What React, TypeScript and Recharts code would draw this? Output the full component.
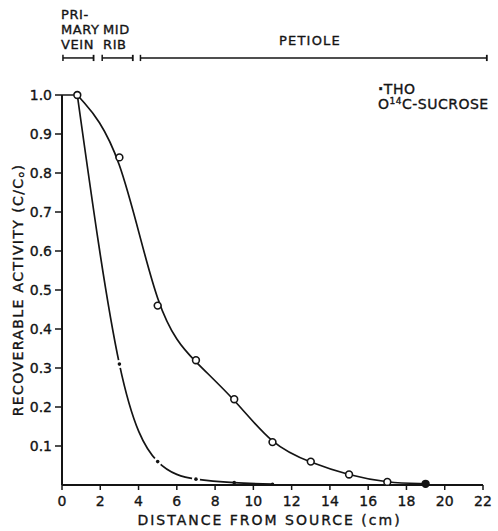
import React from 'react';
import { LineChart, Line, XAxis, YAxis, ReferenceLine, Legend } from 'recharts';

const FONT = '"DejaVu Sans", Verdana, sans-serif';
const INK = '#141414';

// Distances (cm) and recoverable activity (C/Co)
const sucroseDistance = [0.8, 3, 5, 7, 9, 11, 13, 15, 17, 19];
const sucroseActivity = [1.0, 0.84, 0.46, 0.32, 0.22, 0.11, 0.06, 0.027, 0.008, 0.003];
const thoDistance = [0.8, 3, 5, 7, 9, 11];
const thoActivity = [1.0, 0.31, 0.06, 0.015, 0.006, 0.002];

const xTicks = [0, 2, 4, 6, 8, 10, 12, 14, 16, 18, 20, 22];
const yTicks = [0.1, 0.2, 0.3, 0.4, 0.5, 0.6, 0.7, 0.8, 0.9, 1.0];

// Anatomical regions along the distance axis (cm)
const regionNames = ['PRIMARY VEIN', 'MID RIB', 'PETIOLE'];
const regionStart = [0.05, 2.1, 4.1];
const regionEnd = [1.65, 3.7, 22.2];
const bracketLevel = 1.095;

const sucroseData = sucroseDistance.map((d, i) => ({ distance: d, activity: sucroseActivity[i] }));
const thoData = thoDistance.map((d, i) => ({ distance: d, activity: thoActivity[i] }));

// Smoothing B-spline (hand-drawn "fitted" look): control points nudged toward the data
function makeSoftBasis(iterations: number) {
  return function softBasis(context: any) {
    let xs: number[] = [];
    let ys: number[] = [];
    return {
      areaStart() {},
      areaEnd() {},
      lineStart() {
        xs = [];
        ys = [];
      },
      point(x: number, y: number) {
        xs.push(+x);
        ys.push(+y);
      },
      lineEnd() {
        const n = xs.length;
        if (n === 0) return;
        let cx = xs.slice();
        let cy = ys.slice();
        for (let it = 0; it < iterations; it++) {
          const nx = cx.slice();
          const ny = cy.slice();
          for (let i = 1; i < n - 1; i++) {
            const bx = (cx[i - 1] + 4 * cx[i] + cx[i + 1]) / 6;
            const by = (cy[i - 1] + 4 * cy[i] + cy[i + 1]) / 6;
            nx[i] = cx[i] + (xs[i] - bx);
            ny[i] = cy[i] + (ys[i] - by);
          }
          cx = nx;
          cy = ny;
        }
        context.moveTo(cx[0], cy[0]);
        if (n === 1) return;
        if (n === 2) {
          context.lineTo(cx[1], cy[1]);
          return;
        }
        context.lineTo((5 * cx[0] + cx[1]) / 6, (5 * cy[0] + cy[1]) / 6);
        const bez = (x0: number, y0: number, x1: number, y1: number, x: number, y: number) =>
          context.bezierCurveTo(
            (2 * x0 + x1) / 3,
            (2 * y0 + y1) / 3,
            (x0 + 2 * x1) / 3,
            (y0 + 2 * y1) / 3,
            (x0 + 4 * x1 + x) / 6,
            (y0 + 4 * y1 + y) / 6
          );
        for (let k = 2; k < n; k++) bez(cx[k - 2], cy[k - 2], cx[k - 1], cy[k - 1], cx[k], cy[k]);
        bez(cx[n - 2], cy[n - 2], cx[n - 1], cy[n - 1], cx[n - 1], cy[n - 1]);
        context.lineTo(cx[n - 1], cy[n - 1]);
      },
    };
  };
}

const sucroseCurve = makeSoftBasis(1);

const SucroseDot = (props: any) => {
  const { cx, cy, index } = props;
  if (cx == null || cy == null) return <g key={`s-${index}`} />;
  const last = index === sucroseData.length - 1;
  return (
    <circle
      key={`s-${index}`}
      cx={cx}
      cy={cy}
      r={3.4}
      fill={last ? INK : '#fff'}
      stroke={INK}
      strokeWidth={1.6}
    />
  );
};

const ThoDot = (props: any) => {
  const { cx, cy, index, payload } = props;
  if (cx == null || cy == null || index === 0) return <g key={`t-${index}`} />;
  const halo = payload && payload.activity >= 0.01;
  return (
    <g key={`t-${index}`}>
      {halo && <circle cx={cx} cy={cy} r={4} fill="#fff" stroke="none" />}
      <circle cx={cx} cy={cy} r={1.8} fill={INK} stroke="none" />
    </g>
  );
};

const YLabel = (props: any) => {
  const vb = props.viewBox || { x: 0, y: 95, width: 62, height: 390 };
  const cx = vb.x + 18;
  const cy = vb.y + vb.height / 2;
  return (
    <text
      x={cx}
      y={cy}
      transform={`rotate(-90, ${cx}, ${cy})`}
      textAnchor="middle"
      dominantBaseline="central"
      fill={INK}
      stroke={INK}
      strokeWidth={0.35}
      fontFamily={FONT}
      fontSize={14}
      letterSpacing={1.4}
    >
      RECOVERABLE ACTIVITY (C/C
      <tspan fontSize={9} dy={3}>o</tspan>
      <tspan dy={-3}>)</tspan>
    </text>
  );
};

const XLabel = (props: any) => {
  const vb = props.viewBox || { x: 62, y: 485, width: 421, height: 46 };
  return (
    <text
      x={vb.x + vb.width / 2 - 3}
      y={vb.y + 35}
      textAnchor="middle"
      dominantBaseline="central"
      fill={INK}
      stroke={INK}
      strokeWidth={0.35}
      fontFamily={FONT}
      fontSize={14}
      letterSpacing={2}
    >
      DISTANCE FROM SOURCE (cm)
    </text>
  );
};

const LegendContent = () => (
  <div
    style={{
      fontFamily: FONT,
      fontSize: 14,
      color: INK,
      lineHeight: '15px',
      letterSpacing: 0.5,
      whiteSpace: 'nowrap',
      WebkitTextStroke: '0.35px ' + INK,
    }}
  >
    <div>
      <span style={{ fontWeight: 700 }}>·</span>THO
    </div>
    <div>
      O<sup style={{ fontSize: 9, verticalAlign: 'top', lineHeight: '9px' }}>14</sup>C-SUCROSE
    </div>
  </div>
);

const textStyle: React.CSSProperties = {
  position: 'absolute',
  fontFamily: FONT,
  fontSize: 13,
  lineHeight: '15px',
  color: INK,
  letterSpacing: 0.6,
  whiteSpace: 'nowrap',
  WebkitTextStroke: '0.35px ' + INK,
};

const tickStyle = { fill: INK, stroke: INK, strokeWidth: 0.35, fontSize: 14, fontFamily: FONT };

export default function App() {
  const capH = 0.008;
  return (
    <div style={{ position: 'absolute', left: 0, top: 0, width: 498, height: 531, background: '#fff' }}>
      <LineChart width={498} height={531} margin={{ top: 95, right: 15, left: 0, bottom: 0 }}>
        <XAxis
          dataKey="distance"
          type="number"
          domain={[0, 22]}
          ticks={xTicks}
          interval={0}
          allowDuplicatedCategory={false}
          height={46}
          tickSize={5}
          tickMargin={6}
          axisLine={{ stroke: INK, strokeWidth: 2 }}
          tickLine={{ stroke: INK, strokeWidth: 1.5 }}
          tick={tickStyle}
          label={<XLabel />}
        />
        <YAxis
          dataKey="activity"
          type="number"
          domain={[0, 1]}
          ticks={yTicks}
          interval={0}
          width={62}
          tickSize={7}
          tickMargin={3}
          tickFormatter={(v: number) => v.toFixed(1)}
          axisLine={{ stroke: INK, strokeWidth: 2 }}
          tickLine={{ stroke: INK, strokeWidth: 1.5 }}
          tick={tickStyle}
          label={<YLabel />}
        />
        <ReferenceLine
          segment={[{ x: 0, y: 1 }, { x: 0.62, y: 1 }]}
          stroke={INK}
          strokeWidth={1.5}
          ifOverflow="visible"
        />
        {regionNames.map((name, i) => (
          <ReferenceLine
            key={`bar-${name}`}
            segment={[{ x: regionStart[i], y: bracketLevel }, { x: regionEnd[i], y: bracketLevel }]}
            stroke={INK}
            strokeWidth={1.5}
            ifOverflow="visible"
          />
        ))}
        {regionNames.map((name, i) => (
          <ReferenceLine
            key={`capL-${name}`}
            segment={[{ x: regionStart[i], y: bracketLevel - capH }, { x: regionStart[i], y: bracketLevel + capH }]}
            stroke={INK}
            strokeWidth={1.5}
            ifOverflow="visible"
          />
        ))}
        {regionNames.map((name, i) => (
          <ReferenceLine
            key={`capR-${name}`}
            segment={[{ x: regionEnd[i], y: bracketLevel - capH }, { x: regionEnd[i], y: bracketLevel + capH }]}
            stroke={INK}
            strokeWidth={1.8}
            ifOverflow="visible"
          />
        ))}
        <Line
          data={thoData}
          dataKey="activity"
          name="THO"
          type="natural"
          stroke={INK}
          strokeWidth={1.7}
          dot={ThoDot}
          activeDot={false}
          isAnimationActive={false}
        />
        <Line
          data={sucroseData}
          dataKey="activity"
          name="14C-SUCROSE"
          type={sucroseCurve as any}
          stroke={INK}
          strokeWidth={1.7}
          dot={SucroseDot}
          activeDot={false}
          isAnimationActive={false}
        />
        <Legend
          layout="horizontal"
          verticalAlign="middle"
          align="center"
          content={<LegendContent />}
          wrapperStyle={{ left: 378, top: 82, width: 120 }}
        />
      </LineChart>
      <div style={{ ...textStyle, left: 61, top: 7 }}>
        PRI-
        <br />
        MARY
        <br />
        VEIN
      </div>
      <div style={{ ...textStyle, left: 103, top: 22 }}>
        MID
        <br />
        RIB
      </div>
      <div style={{ ...textStyle, left: 279, top: 33, letterSpacing: 1.2 }}>PETIOLE</div>
    </div>
  );
}
